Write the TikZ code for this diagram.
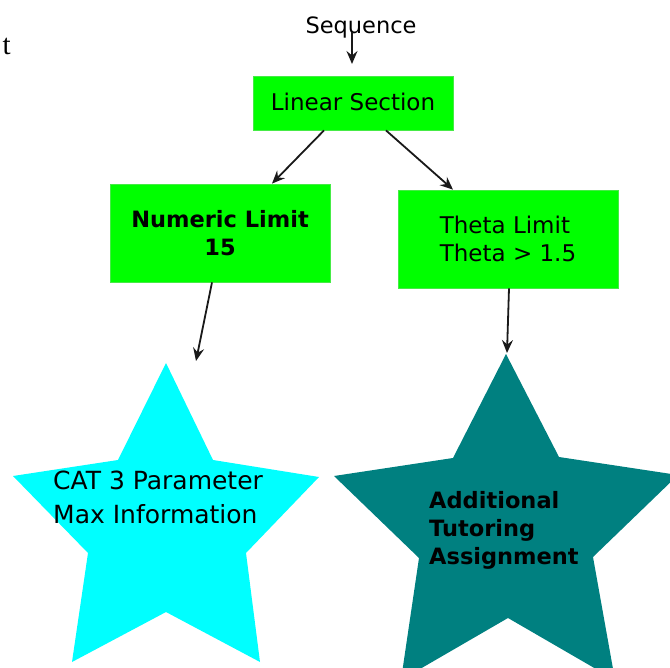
\documentclass[tikz,border=0pt]{standalone}
\usepackage{fontspec}
\setmainfont{DejaVu Sans}
\newfontfamily\romanfont{Liberation Serif}
\usetikzlibrary{arrows.meta,calc}
\definecolor{boxgreen}{RGB}{0,255,0}
\definecolor{boxedge}{RGB}{70,235,70}
\definecolor{starcyan}{RGB}{0,255,255}
\definecolor{starteal}{RGB}{0,128,128}
\begin{document}
\begin{tikzpicture}[x=1pt,y=-1pt,
  box/.style={fill=boxgreen, draw=boxedge, line width=0.8pt, inner sep=0pt,
              font=\fontsize{23}{28}\selectfont},
  arr/.style={draw=black!90, line width=1.8pt,
              -{Stealth[length=13pt,width=11pt,inset=4.5pt]}},
  label/.style={inner sep=0pt, text=black},
]
\useasboundingbox (0,0) rectangle (670,668);
\clip (0,0) rectangle (670,668);

% stray glyph at the left margin
\node[label, anchor=base east, font=\romanfont\fontsize{29}{32}\selectfont] (stray) at (11,55) {t};

% title
\node[label, anchor=base, font=\fontsize{22.5}{27}\selectfont] (seq) at (361,34) {Sequence};

% boxes
\node[box, minimum width=200pt, minimum height=54pt, text depth=2pt] (lin) at (353,103) {Linear Section};
\node[box, minimum width=220pt, minimum height=98pt, align=center,
      font=\bfseries\fontsize{22.5}{28}\selectfont] (num) at (220,233) {Numeric Limit\\15};
\node[box, minimum width=220pt, minimum height=98pt, align=left] (th) at (508,239)
      {Theta Limit\\Theta > 1.5};

% stars
\fill[starcyan] (166,363) -- (213,460) -- (319,477) -- (246,553) -- (260,662)
  -- (166,612) -- (72,662) -- (88,553) -- (13,476) -- (118,460) -- cycle;
\fill[starteal] (506,354) -- (559,457) -- (678,475) -- (593,557) -- (615,680)
  -- (508,618) -- (401,680) -- (419,558) -- (334,476) -- (453,458) -- cycle;
\coordinate (cyantarget) at (196,361);
\coordinate (tealtop) at (507,353);

\node[label, anchor=north west, align=left, font=\fontsize{25}{34}\selectfont]
  (cattext) at (53,471) {CAT 3 Parameter\\Max Information};
\node[label, anchor=north west, align=left, font=\bfseries\fontsize{22.5}{28}\selectfont]
  (tuttext) at (429,491) {Additional\\Tutoring\\Assignment};

% connectors
\coordinate (seqstart) at (352,32);
\coordinate (seqend) at (352,64);
\draw[arr] (seqstart) -- (seqend);
\draw[arr] ([xshift=-29pt]lin.south) -- ([xshift=52pt]num.north);
\draw[arr] ([xshift=33pt]lin.south) -- ([xshift=-55pt]th.north);
\draw[arr] ([xshift=-8pt]num.south) -- (cyantarget);
\draw[arr] ([xshift=1pt]th.south) -- (tealtop);
\end{tikzpicture}
\end{document}
